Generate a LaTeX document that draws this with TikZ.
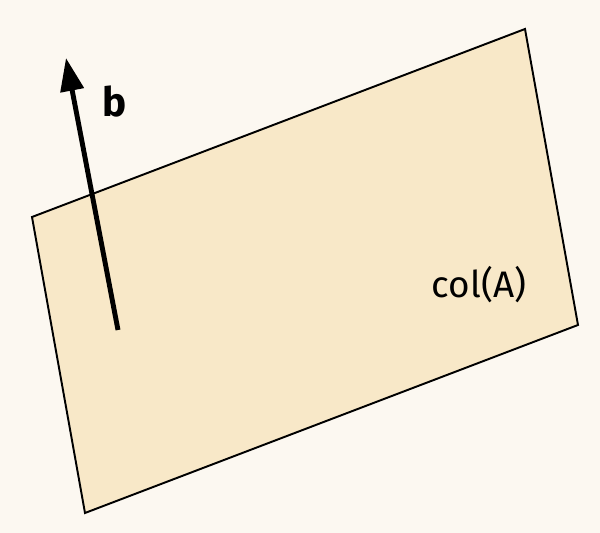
\documentclass[tikz,border=0pt]{standalone}
\usepackage{fontspec}
\setmainfont{Fira Sans}
\usetikzlibrary{arrows.meta}
\definecolor{paper}{HTML}{FCF8F1}
\definecolor{planefill}{HTML}{F8E8C8}

\begin{document}
\begin{tikzpicture}[x=0.02cm, y=-0.02cm]
  \tikzset{
    plane/.style={fill=planefill, draw=black, line width=1.1pt, line join=miter},
    vec/.style={-{Triangle[length=6.6mm, width=4.6mm]}, line width=2.8pt},
    lbl/.style={font=\fontsize{21}{25}\selectfont, inner sep=0pt}
  }
  \fill [paper](0,0) rectangle (600,533);
  \useasboundingbox (0,0) rectangle (600,533);

  % the column space
  \coordinate (p1) at (32,217);
  \coordinate (p2) at (525,29);
  \coordinate (p3) at (578,325);
  \coordinate (p4) at (85,513);
  \draw [plane](p1) -- (p2) -- (p3) -- (p4) -- cycle;
  \node [lbl] (colA) at (479,285) {col(A)};

  % the vector b
  \coordinate (b0) at (118,330);
  \coordinate (b1) at (66,58);
  \draw [vec](b0) -- (b1);
  \node [lbl, font=\fontsize{23}{27}\selectfont\bfseries] (blab) at (115,102) {b};
\end{tikzpicture}
\end{document}
